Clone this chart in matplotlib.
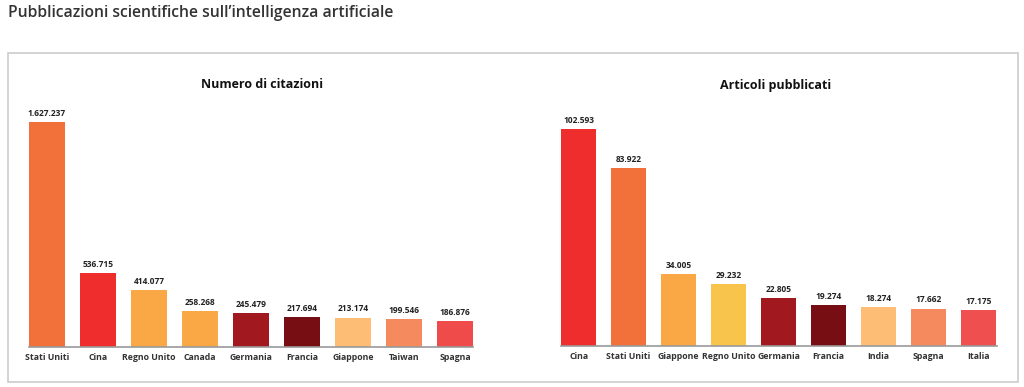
import matplotlib.pyplot as plt
from matplotlib.patches import Rectangle

plt.rcParams['font.family'] = ['Open Sans', 'DejaVu Sans']

# Numero di citazioni
cit_paesi = ["Stati Uniti", "Cina", "Regno Unito", "Canada", "Germania",
             "Francia", "Giappone", "Taiwan", "Spagna"]
cit_valori = [1627237, 536715, 414077, 258268, 245479, 217694, 213174, 199546, 186876]

# Articoli pubblicati
art_paesi = ["Cina", "Stati Uniti", "Giappone", "Regno Unito", "Germania",
             "Francia", "India", "Spagna", "Italia"]
art_valori = [102593, 83922, 34005, 29232, 22805, 19274, 18274, 17662, 17175]

# colore per paese
colori = {
    "Stati Uniti": "#F2703A",
    "Cina": "#EE2D2C",
    "Regno Unito": "#F9A845",
    "Canada": "#F9A845",
    "Germania": "#A1181E",
    "Francia": "#760E13",
    "Giappone": "#FDBD74",
    "Taiwan": "#F58A5E",
    "Spagna": "#EF4B4B",
    "India": "#FDBD74",
    "Italia": "#EF4F4F",
}
colori_art = dict(colori, **{"Giappone": "#F9A845", "Regno Unito": "#F9C44C", "Spagna": "#F58A5E"})

W, H = 1024, 387


def fmt(v):
    return f"{v:,}".replace(",", ".")


def draw(ax, paesi, valori, cmap, ytop):
    x = range(len(paesi))
    ax.bar(x, valori, width=0.7, color=[cmap[p] for p in paesi], zorder=2)
    for i, v in enumerate(valori):
        ax.annotate(fmt(v), xy=(i, v), xytext=(0, 3), textcoords="offset points",
                    ha="center", va="bottom", fontsize=6, fontweight="bold", color="#222222")
    ax.set_xlim(-0.5, len(paesi) - 0.5)
    ax.set_ylim(0, ytop)
    ax.set_xticks(list(x))
    ax.set_xticklabels(paesi, fontsize=6.3, fontweight="bold", color="#333333")
    ax.tick_params(axis="x", length=0, pad=4)
    ax.set_yticks([])
    for s in ["top", "right", "left"]:
        ax.spines[s].set_visible(False)
    ax.spines["bottom"].set_color("#999999")
    ax.spines["bottom"].set_linewidth(1.2)
    ax.spines["bottom"].set_bounds(-0.36, len(paesi) - 0.64)
    ax.patch.set_alpha(0)


fig = plt.figure(figsize=(W / 100, H / 100), dpi=100)

# cornice grigia
fig.patches.append(Rectangle((8 / W, 5 / H), 1010 / W, 329 / H, transform=fig.transFigure,
                             fill=False, edgecolor="#cccccc", linewidth=1.2))

fig.text(8 / W, 1 - 13 / H, "Pubblicazioni scientifiche sull\u2019intelligenza artificiale",
         fontsize=11.3, fontweight="semibold", color="#333333", va="center", ha="left")

ax1 = fig.add_axes([21.5 / W, 40 / H, 459 / W, 260 / H])
draw(ax1, cit_paesi, cit_valori, colori, max(cit_valori) * 260 / 225)
fig.text(262 / W, 1 - 85 / H, "Numero di citazioni", fontsize=9, fontweight="bold",
         ha="center", va="center", color="#111111")

ax2 = fig.add_axes([553.6 / W, 41 / H, 450 / W, 260 / H])
draw(ax2, art_paesi, art_valori, colori_art, max(art_valori) * 260 / 217)
fig.text(776 / W, 1 - 85 / H, "Articoli pubblicati", fontsize=9, fontweight="bold",
         ha="center", va="center", color="#111111")

fig.savefig("out.png", dpi=100, facecolor="white")
